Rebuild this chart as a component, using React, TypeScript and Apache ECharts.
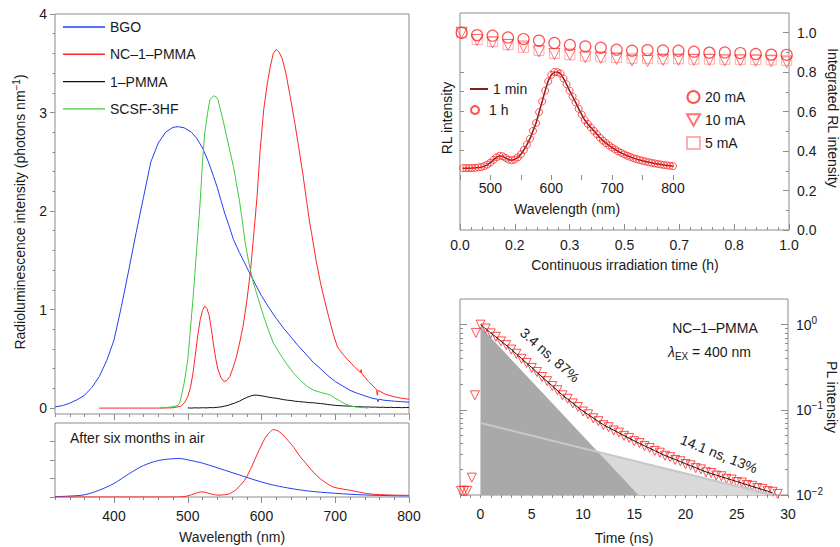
import React, { useEffect, useRef } from 'react';
import * as echarts from 'echarts';

// ---------- DATA ----------
// Main panel: radioluminescence spectra [wavelength nm, photons/nm]
const bgoSpectrum: number[][] = [[320,0.012],[330,0.025],[340,0.05],[350,0.085],[360,0.13],[370,0.21],[380,0.32],[390,0.48],[400,0.69],[410,1.03],[420,1.4],[430,1.78],[440,2.14],[450,2.5],[460,2.69],[470,2.8],[480,2.85],[487,2.856],[495,2.845],[505,2.8],[512,2.74],[520,2.64],[528,2.5],[535,2.35],[540,2.24],[545,2.11],[550,1.98],[556,1.85],[562,1.71],[570,1.58],[580,1.43],[590,1.28],[600,1.14],[610,1.02],[620,0.91],[630,0.81],[640,0.72],[650,0.63],[660,0.55],[670,0.465],[680,0.4],[690,0.33],[700,0.27],[710,0.225],[720,0.18],[730,0.15],[740,0.125],[750,0.1],[757,0.09],[758,0.065],[759,0.09],[766,0.08],[780,0.07],[790,0.065],[800,0.06]];
const ncSpectrum: number[][] = [[380,0],[420,0],[460,0],[480,0.003],[491,0.02],[496,0.06],[500,0.115],[504,0.22],[507,0.35],[511,0.58],[514,0.76],[517,0.9],[520,0.99],[523,1.035],[526,1.01],[529,0.94],[532,0.8],[535,0.64],[538,0.5],[541,0.39],[545,0.31],[549,0.27],[553,0.28],[557,0.32],[561,0.4],[566,0.52],[570,0.65],[575,0.83],[580,1.08],[585,1.39],[589,1.72],[594,2.15],[598,2.6],[603,3.03],[608,3.3],[612,3.47],[616,3.6],[620,3.64],[624,3.61],[628,3.55],[633,3.4],[639,3.16],[645,2.9],[650,2.67],[656,2.38],[661,2.11],[665,1.9],[668,1.77],[674,1.5],[680,1.27],[686,1.08],[691,0.93],[697,0.76],[703,0.62],[710,0.55],[717,0.49],[726,0.42],[734,0.36],[735,0.39],[736,0.35],[745,0.27],[756,0.19],[757,0.13],[758,0.18],[768,0.14],[780,0.115],[790,0.1],[800,0.09]];
const pmmaSpectrum: number[][] = [[500,0.002],[505,0],[510,0.003],[515,0.001],[520,0.004],[525,0.002],[530,0.005],[535,0.004],[540,0.008],[545,0.012],[550,0.02],[555,0.028],[560,0.042],[565,0.055],[570,0.07],[575,0.09],[580,0.108],[585,0.122],[590,0.132],[595,0.13],[600,0.125],[605,0.118],[610,0.11],[615,0.104],[620,0.1],[625,0.093],[630,0.086],[635,0.08],[640,0.077],[645,0.07],[650,0.067],[655,0.063],[660,0.06],[665,0.055],[670,0.054],[675,0.05],[680,0.046],[685,0.042],[690,0.036],[695,0.032],[700,0.028],[705,0.025],[710,0.023],[715,0.021],[720,0.02],[725,0.016],[730,0.015],[735,0.013],[740,0.011],[745,0.012],[750,0.009],[755,0.01],[760,0.007],[765,0.009],[770,0.006],[775,0.008],[780,0.005],[785,0.007],[790,0.004],[795,0.006],[800,0.005]];
const scsfSpectrum: number[][] = [[462,0],[470,0.004],[480,0.015],[486,0.025],[489,0.05],[491,0.11],[495,0.25],[500,0.49],[503,0.75],[507,1.1],[512,1.6],[517,2.11],[520,2.5],[523,2.79],[527,3.0],[530,3.13],[535,3.17],[538,3.16],[541,3.13],[547,2.95],[553,2.75],[558,2.58],[562,2.45],[566,2.28],[570,2.11],[574,1.9],[578,1.67],[583,1.47],[589,1.27],[596,1.1],[603,0.93],[610,0.78],[616,0.66],[625,0.55],[634,0.45],[643,0.36],[653,0.28],[662,0.22],[671,0.18],[680,0.16],[690,0.14],[694,0.13],[700,0.1],[707,0.07],[714,0.04],[721,0.02],[730,0.01],[745,0]];

// After six months in air (arb. units)
const bgoAged: number[][] = [[320,0.02],[340,0.05],[360,0.12],[380,0.37],[400,0.73],[420,1.25],[440,1.7],[460,1.97],[480,2.07],[490,2.08],[500,2.01],[520,1.83],[540,1.58],[560,1.32],[580,1.06],[600,0.81],[620,0.61],[640,0.46],[660,0.34],[680,0.26],[700,0.2],[720,0.15],[740,0.11],[760,0.085],[780,0.07],[800,0.06]];
const ncAged: number[][] = [[320,0],[400,0],[480,0],[495,0.02],[505,0.12],[512,0.22],[519,0.28],[525,0.24],[532,0.16],[541,0.1],[550,0.12],[557,0.18],[565,0.38],[571,0.62],[577,0.9],[582,1.25],[588,1.75],[594,2.3],[600,2.8],[605,3.2],[611,3.5],[616,3.64],[621,3.6],[628,3.4],[636,3.05],[644,2.67],[652,2.2],[661,1.78],[670,1.35],[680,0.98],[689,0.72],[698,0.53],[710,0.43],[721,0.36],[733,0.26],[744,0.18],[760,0.13],[780,0.1],[800,0.09]];

// Top right: integrated RL intensity vs time (h)
const irrTime = [0.005,0.052,0.099,0.146,0.193,0.240,0.287,0.334,0.381,0.428,0.476,0.523,0.570,0.617,0.664,0.711,0.758,0.805,0.852,0.899,0.946,0.993];
const int20mA = [1.0,0.988,0.985,0.976,0.968,0.96,0.948,0.938,0.931,0.924,0.914,0.909,0.912,0.91,0.909,0.904,0.899,0.9,0.897,0.892,0.889,0.888];
const int10mA = [1.0,0.963,0.95,0.938,0.93,0.905,0.892,0.889,0.875,0.872,0.867,0.859,0.857,0.862,0.862,0.862,0.862,0.859,0.859,0.858,0.856,0.85];
const int5mA = [1.0,0.965,0.955,0.94,0.925,0.91,0.895,0.888,0.882,0.878,0.874,0.87,0.87,0.868,0.868,0.866,0.866,0.865,0.865,0.864,0.862,0.86];

// Inset: RL spectrum after 1 min and 1 h (normalised)
const insetWl = [455,460,465,470,475,480,485,490,495,500,505,510,515,520,525,530,535,540,545,550,555,560,565,570,575,580,585,590,595,600,605,610,615,620,625,630,635,640,645,650,655,660,665,670,675,680,685,690,695,700,705,710,715,720,725,730,735,740,745,750,755,760,765,770,775,780,785,790,795,800];
const rl1min = [0.02,0.02,0.02,0.021,0.023,0.026,0.03,0.04,0.055,0.075,0.105,0.13,0.145,0.14,0.125,0.105,0.1,0.108,0.13,0.16,0.205,0.26,0.32,0.4,0.48,0.59,0.7,0.81,0.91,0.97,1.0,1.0,0.985,0.935,0.875,0.81,0.75,0.69,0.625,0.565,0.51,0.47,0.435,0.4,0.365,0.33,0.3,0.275,0.25,0.23,0.21,0.19,0.175,0.16,0.146,0.134,0.122,0.112,0.103,0.095,0.088,0.08,0.074,0.068,0.062,0.057,0.052,0.048,0.044,0.04];
const rl1h = [0.02,0.02,0.021,0.021,0.023,0.027,0.031,0.041,0.056,0.076,0.104,0.13,0.146,0.141,0.124,0.106,0.1,0.108,0.13,0.16,0.206,0.26,0.32,0.4,0.48,0.59,0.7,0.81,0.905,0.97,1.0,0.998,0.985,0.935,0.875,0.81,0.75,0.69,0.625,0.566,0.51,0.47,0.435,0.4,0.365,0.33,0.3,0.275,0.25,0.23,0.21,0.19,0.175,0.16,0.146,0.134,0.122,0.112,0.103,0.095,0.088,0.08,0.074,0.068,0.062,0.057,0.052,0.048,0.044,0.041];

// Bottom right: PL decay
const decayT = [0,0.5,1,1.5,2,2.5,3,3.5,4,4.5,5,5.5,6,6.5,7,7.5,8,8.5,9,9.5,10,10.5,11,11.5,12,12.5,13,13.5,14,14.5,15,15.5,16,16.5,17,17.5,18,18.5,19,19.5,20,20.5,21,21.5,22,22.5,23,23.5,24,24.5,25,25.5,26,26.5,27,27.5,28,28.5,29];
const decayV = [1.0,0.9,0.79,0.72,0.635,0.575,0.51,0.455,0.398,0.355,0.31,0.278,0.243,0.217,0.19,0.17,0.148,0.135,0.119,0.108,0.0955,0.0885,0.0795,0.0735,0.066,0.0625,0.0572,0.054,0.0495,0.0468,0.0428,0.0407,0.0375,0.0357,0.0329,0.0314,0.0289,0.0278,0.0258,0.0249,0.0231,0.0223,0.0207,0.02,0.0185,0.0181,0.0169,0.0166,0.0155,0.0152,0.0142,0.014,0.0131,0.0128,0.0121,0.0118,0.0111,0.0109,0.0103];
const preZero: number[][] = [[-1.9,0.0112],[-1.6,0.0112],[-1.3,0.0112],[-0.85,0.016],[-0.55,0.148],[-0.45,0.8]];
const fitT = [0,1,2,3,4,5,6,7,8,9,10,11,12,13,14,15,16,17,18,19,20,21,22,23,24,25,26,27,28,28.5];
const fitV = [1.0,0.8,0.64,0.512,0.4,0.313,0.244,0.191,0.149,0.12,0.0964,0.0802,0.0667,0.0577,0.0499,0.0432,0.0378,0.0332,0.0291,0.0261,0.0233,0.0209,0.0187,0.0171,0.0157,0.0144,0.0132,0.0121,0.0111,0.0106];
const fastComponent: number[][] = [[0,0.95],[15.4,0.01],[0,0.01]];
const slowComponent: number[][] = [[0,0.07],[28.5,0.01],[0,0.01]];
const slowLine: number[][] = [[0,0.07],[28.5,0.01]];

// Tick values
const wlTicks = [320,340,360,380,400,420,440,460,480,500,520,540,560,580,600,620,640,660,680,700,720,740,760,780,800];
const wlMajor = [400,500,600,700,800];
const mainYMinor = [0,0.2,0.4,0.6,0.8,1,1.2,1.4,1.6,1.8,2,2.2,2.4,2.6,2.8,3,3.2,3.4,3.6,3.8,4];
const mainYMajor = [0,1,2,3,4];
const agedYTicks = [0,1,2,3];
const timeMajor = [0,1/6,2/6,3/6,4/6,5/6,1];
const timeMinor = Array.from({ length: 31 }, (_, i) => i / 30);
const intMinor = [0,0.1,0.2,0.3,0.4,0.5,0.6,0.7,0.8,0.9,1.0];
const intMajor = [0,0.2,0.4,0.6,0.8,1.0];
const insetXTicks = [450,500,550,600,650,700,750,800];
const insetXLabels = [500,600,700,800];
const insetYTicks = [0.2,0.4,0.6,0.8,1.0];
const nsTicks = Array.from({ length: 33 }, (_, i) => i - 2);
const nsLabels = [0,5,10,15,20,25,30];
const logMajor = [0.01,0.1,1];
const logMinor = [0.02,0.03,0.04,0.05,0.06,0.07,0.08,0.09,0.2,0.3,0.4,0.5,0.6,0.7,0.8,0.9];

// ---------- STYLE ----------
const FONT = "'Liberation Sans', Arial, Helvetica, sans-serif";
const TXT = '#1a1a1a';
const AX = '#8c8c8c';
const BLUE = '#2040f5';
const RED = '#ff2424';
const GREEN = '#40c840';
const BLACK = '#111111';
const MAROON = '#8b1a1a';

const pair = (xs: number[], ys: number[]) => xs.map((x, i) => [x, ys[i]]);

function axis(gridIndex: number, extra: any) {
  return {
    gridIndex,
    type: 'value',
    axisLine: { show: false, onZero: false },
    splitLine: { show: false },
    axisLabel: { show: false },
    axisTick: { show: false },
    ...extra,
  };
}
const ticks = (values: number[], length: number, inside = false) => ({
  show: true, customValues: values, length, inside, lineStyle: { color: AX, width: 1 },
});
const labels = (values: number[], margin: number, extra: any = {}) => ({
  show: true, customValues: values, margin, fontSize: 14, color: TXT, fontFamily: FONT, ...extra,
});

const hollow = (c: string, w = 1) => ({ color: 'rgba(0,0,0,0)', borderColor: c, borderWidth: w });
const legendText = { fontSize: 14, color: TXT, fontFamily: FONT };

function text(x: number, y: number, t: string, extra: any = {}, rotation = 0) {
  return {
    type: 'text', x, y, rotation, silent: true,
    style: { text: t, fontSize: 14, fontFamily: FONT, fill: TXT, align: 'center', verticalAlign: 'middle', ...extra },
  };
}

function buildOption(): any {
  const supRich = { sup: { fontSize: 10, fontFamily: FONT, fill: TXT, verticalAlign: 'top', lineHeight: 10 } };
  return {
    animation: false,
    backgroundColor: '#ffffff',
    textStyle: { fontFamily: FONT, color: TXT },
    grid: [
      { left: 55, top: 14, width: 354, height: 400, show: true, borderColor: AX, borderWidth: 1 },
      { left: 55, top: 423, width: 354, height: 74, show: true, borderColor: AX, borderWidth: 1 },
      { left: 460, top: 13, width: 329, height: 217, show: true, borderColor: AX, borderWidth: 1 },
      { left: 460, top: 72, width: 213, height: 103, show: false },
      { left: 460, top: 299, width: 328, height: 196, show: true, borderColor: AX, borderWidth: 1 },
    ],
    xAxis: [
      axis(0, { min: 320, max: 800, position: 'bottom', axisTick: ticks(wlTicks, 3) }),
      axis(0, { min: 320, max: 800, position: 'bottom', axisTick: ticks(wlMajor, 6) }),
      axis(1, { min: 320, max: 800, position: 'bottom', axisTick: ticks(wlTicks, 3), axisLabel: labels(wlMajor, 12) }),
      axis(1, { min: 320, max: 800, position: 'bottom', axisTick: ticks(wlMajor, 6) }),
      axis(2, { min: 0, max: 1, position: 'bottom', axisTick: ticks(timeMinor, 3, true),
        axisLabel: labels(timeMajor, 8, { formatter: (v: number) => v.toFixed(1) }) }),
      axis(2, { min: 0, max: 1, position: 'bottom', axisTick: ticks(timeMajor, 6, true) }),
      axis(3, { min: 450, max: 800, position: 'bottom', axisTick: ticks(insetXTicks, 5), axisLabel: labels(insetXLabels, 6) }),
      axis(4, { min: -2, max: 30, position: 'bottom', axisTick: ticks(nsTicks, 3), axisLabel: labels(nsLabels, 12) }),
    ],
    yAxis: [
      axis(0, { min: -0.06, max: 4, position: 'left', axisTick: ticks(mainYMinor, 2.5), axisLabel: labels(mainYMajor, 8) }),
      axis(0, { min: -0.06, max: 4, position: 'left', axisTick: ticks(mainYMajor, 5) }),
      axis(1, { min: 0, max: 4, position: 'left', axisTick: ticks(agedYTicks, 5) }),
      axis(2, { min: 0, max: 1.1, position: 'right', axisTick: ticks(intMinor, 3, true),
        axisLabel: labels(intMajor, 8, { formatter: (v: number) => v.toFixed(1) }) }),
      axis(2, { min: 0, max: 1.1, position: 'right', axisTick: ticks(intMajor, 6, true) }),
      axis(3, { min: -0.05, max: 1, position: 'left', axisTick: ticks(insetYTicks, 4, true) }),
      axis(4, { type: 'log', logBase: 10, min: 0.01, max: 2, position: 'left', axisTick: ticks(logMinor, 3, true) }),
      axis(4, { type: 'log', logBase: 10, min: 0.01, max: 2, position: 'left', axisTick: ticks(logMajor, 7, true) }),
      axis(4, { type: 'log', logBase: 10, min: 0.01, max: 2, position: 'right', axisTick: ticks(logMinor, 3, true),
        axisLabel: labels(logMajor, 8, {
          lineHeight: 18,
          formatter: (v: number) => {
            const e = Math.round(Math.log10(v));
            return '10{sup|' + (e < 0 ? '\u2212' + -e : String(e)) + '}';
          },
          rich: { sup: { fontSize: 10, fontFamily: FONT, color: TXT, verticalAlign: 'top', lineHeight: 10 } },
        }) }),
      axis(4, { type: 'log', logBase: 10, min: 0.01, max: 2, position: 'right', axisTick: ticks(logMajor, 7, true) }),
    ],
    legend: [
      { data: ['BGO', 'NC\u20131\u2013PMMA', '1\u2013PMMA', 'SCSF-3HF'].map((n) => ({ name: n, icon: 'rect' })),
        orient: 'vertical', left: 63, top: 20,
        itemWidth: 42, itemHeight: 1.4, itemGap: 13.3, padding: 0, selectedMode: false, textStyle: legendText },
      { data: [{ name: '1 min', icon: 'rect' }], orient: 'vertical', left: 470, top: 82, itemWidth: 18, itemHeight: 2,
        padding: 0, selectedMode: false, textStyle: legendText },
      { data: ['1 h'], orient: 'vertical', left: 470, top: 103, itemWidth: 18, itemHeight: 8,
        padding: 0, selectedMode: false, textStyle: legendText },
      { data: ['20 mA', { name: '10 mA', icon: 'path://M0,0L12,0L6,10.4Z' }, '5 mA'], orient: 'vertical', left: 686, top: 90,
        itemWidth: 13, itemHeight: 12, itemGap: 9, padding: 0, selectedMode: false, textStyle: legendText },
    ],
    series: [
      // main panel
      { name: 'BGO', type: 'line', xAxisIndex: 0, yAxisIndex: 0, data: bgoSpectrum, symbol: 'none', color: BLUE, lineStyle: { width: 1, color: BLUE } },
      { name: 'NC\u20131\u2013PMMA', type: 'line', xAxisIndex: 0, yAxisIndex: 0, data: ncSpectrum, symbol: 'none', color: RED, lineStyle: { width: 1, color: RED } },
      { name: '1\u2013PMMA', type: 'line', xAxisIndex: 0, yAxisIndex: 0, data: pmmaSpectrum, symbol: 'none', color: BLACK, lineStyle: { width: 1, color: BLACK } },
      { name: 'SCSF-3HF', type: 'line', xAxisIndex: 0, yAxisIndex: 0, data: scsfSpectrum, symbol: 'none', color: GREEN, lineStyle: { width: 1, color: GREEN } },
      // aged panel
      { name: 'BGO aged', type: 'line', xAxisIndex: 2, yAxisIndex: 2, data: bgoAged, symbol: 'none', smooth: 0.3, lineStyle: { width: 1, color: BLUE } },
      { name: 'NC aged', type: 'line', xAxisIndex: 2, yAxisIndex: 2, data: ncAged, symbol: 'none', smooth: 0.3, lineStyle: { width: 1, color: RED } },
      // top right
      { name: '5 mA', type: 'scatter', xAxisIndex: 4, yAxisIndex: 3, data: pair(irrTime, int5mA), symbol: 'rect', symbolSize: 10,
        itemStyle: hollow('#ff9a9a', 1) },
      { name: '10 mA', type: 'scatter', xAxisIndex: 4, yAxisIndex: 3, data: pair(irrTime, int10mA), symbol: 'triangle', symbolRotate: 180, symbolSize: 11,
        itemStyle: hollow('#ff5050', 1) },
      { name: '20 mA', type: 'scatter', xAxisIndex: 4, yAxisIndex: 3, data: pair(irrTime, int20mA), symbol: 'circle', symbolSize: 11,
        itemStyle: hollow(RED, 1.2) },
      // inset
      { name: '1 min', type: 'line', xAxisIndex: 6, yAxisIndex: 5, data: pair(insetWl, rl1min), symbol: 'none', color: MAROON,
        lineStyle: { width: 1.5, color: MAROON }, z: 3 },
      { name: '1 h', type: 'scatter', xAxisIndex: 6, yAxisIndex: 5, data: pair(insetWl, rl1h), symbol: 'circle', symbolSize: 7,
        itemStyle: hollow(RED, 1), z: 4 },
      // bottom right
      { name: 'slow area', type: 'custom', xAxisIndex: 7, yAxisIndex: 6, data: [[0, 0.05]], silent: true, clip: true,
        renderItem: (_p: any, api: any) => ({ type: 'polygon', shape: { points: slowComponent.map((p) => api.coord(p)) }, style: { fill: '#d9d9d9' } }) },
      { name: 'fast area', type: 'custom', xAxisIndex: 7, yAxisIndex: 6, data: [[0, 0.05]], silent: true, clip: true,
        renderItem: (_p: any, api: any) => ({ type: 'polygon', shape: { points: fastComponent.map((p) => api.coord(p)) }, style: { fill: '#a9a9a9' } }) },
      { name: 'slow line', type: 'line', xAxisIndex: 7, yAxisIndex: 6, data: slowLine, symbol: 'none', silent: true,
        lineStyle: { width: 2, color: '#c8c8c8' } },
      { name: 'fit', type: 'line', xAxisIndex: 7, yAxisIndex: 6, data: pair(fitT, fitV), symbol: 'none', smooth: 0.3,
        lineStyle: { width: 1, color: BLACK } },
      { name: 'decay', type: 'scatter', xAxisIndex: 7, yAxisIndex: 6, data: [...preZero, ...pair(decayT, decayV)],
        symbol: 'triangle', symbolRotate: 180, symbolSize: 9, itemStyle: hollow(RED, 1) },
    ],
    graphic: {
      elements: [
        text(20, 212, 'Radioluminescence intensity (photons nm{sup|\u22121})', { rich: supRich, lineHeight: 18 }, Math.PI / 2),
        text(70, 438, 'After six months in air', { align: 'left' }),
        text(232, 537, 'Wavelength (nm)'),
        text(447, 118, 'RL intensity', {}, Math.PI / 2),
        text(567, 209, 'Wavelength (nm)'),
        text(625, 265, 'Continuous irradiation time (h)'),
        text(833, 118, 'Integrated RL intensity', {}, -Math.PI / 2),
        text(624, 538, 'Time (ns)'),
        text(832, 397, 'PL intensity', {}, -Math.PI / 2),
        text(715, 328, 'NC\u20131\u2013PMMA'),
        text(668, 352, '{it|\u03bb}{sub|EX} = 400 nm', {
          align: 'left', lineHeight: 18,
          rich: {
            it: { fontSize: 14, fontStyle: 'italic', fontFamily: FONT, fill: TXT, lineHeight: 18 },
            sub: { fontSize: 10, fontFamily: FONT, fill: TXT, verticalAlign: 'bottom', lineHeight: 10 },
          },
        }),
        text(550, 355, '3.4 ns, 87%', {}, -0.726),
        text(719, 454, '14.1 ns, 13%', {}, -0.377),
      ],
    },
  };
}

export default function App() {
  const ref = useRef<HTMLDivElement>(null);
  useEffect(() => {
    const chart = echarts.init(ref.current!, null, { renderer: 'svg' });
    chart.setOption(buildOption());
    return () => chart.dispose();
  }, []);
  return (
    <div
      ref={ref}
      style={{ position: 'absolute', left: 0, top: 0, width: 840, height: 547, background: '#fff' }}
    />
  );
}
